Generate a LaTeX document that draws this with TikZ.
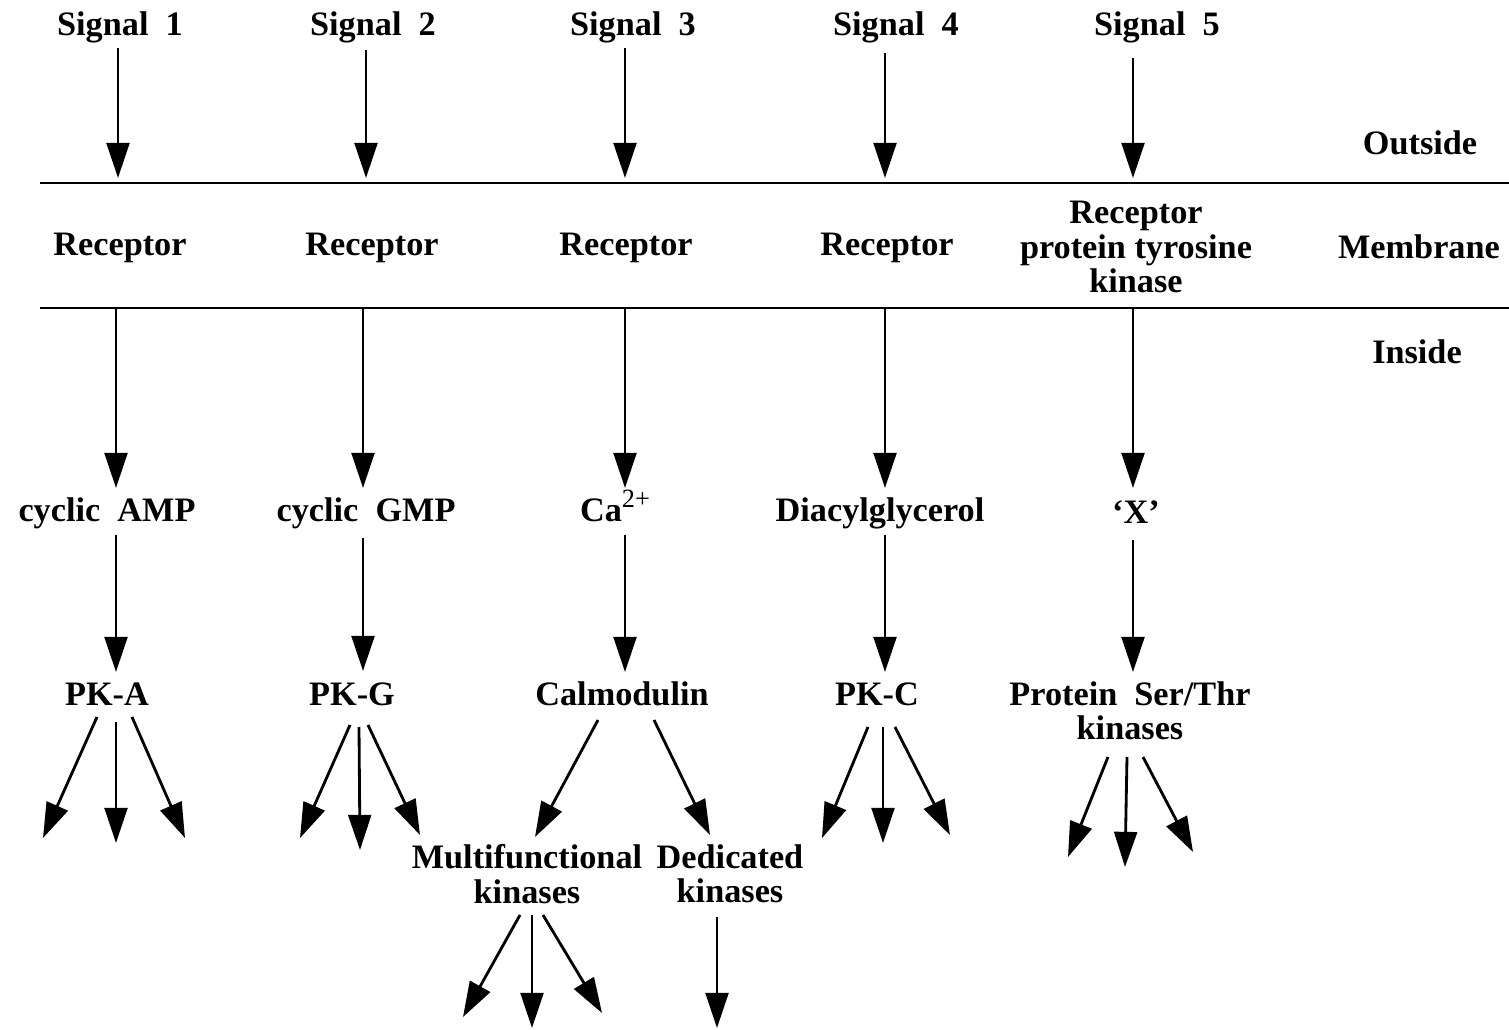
\documentclass[tikz,border=0pt]{standalone}
\usepackage{fontspec}
\setmainfont{Liberation Serif}
\usetikzlibrary{arrows.meta}
\begin{document}
\begin{tikzpicture}[x=0.02cm,y=-0.02cm,>={Triangle[length=20pt,width=13pt]}]
\tikzstyle lbl=[font=\fontsize{19.5}{19.5}\selectfont\bfseries, inner sep=2pt, align=center]
\tikzstyle sig=[line width=1.6pt,->]
\tikzstyle memb=[line width=1.7pt]
\useasboundingbox (0,0) rectangle (1509,1030);

\draw[memb] (40,183) -- (1509,183);
\draw[memb] (40,308) -- (1509,308);

\node[lbl] (s1) at (120,27) {Signal\ \ 1};
\node[lbl] (s2) at (373,27) {Signal\ \ 2};
\node[lbl] (s3) at (633,27) {Signal\ \ 3};
\node[lbl] (s4) at (896,27) {Signal\ \ 4};
\node[lbl] (s5) at (1157,27) {Signal\ \ 5};

\node[lbl] (r1) at (120,248) {Receptor};
\node[lbl] (r2) at (372,248) {Receptor};
\node[lbl] (r3) at (626,248) {Receptor};
\node[lbl] (r4) at (887,248) {Receptor};
\node[lbl] (r5) at (1136,247) {Receptor\\protein tyrosine\\kinase};

\node[lbl] (outside) at (1420,143) {Outside};
\node[lbl] (membrane) at (1419,247) {Membrane};
\node[lbl] (inside) at (1417,352) {Inside};

\node[lbl] (camp) at (107,513) {cyclic\ \ AMP};
\node[lbl] (cgmp) at (366,513) {cyclic\ \ GMP};
\node[lbl] (ca) at (615,506) {Ca\raisebox{0.42em}{\fontsize{15}{15}\selectfont\mdseries 2+}};
\node[lbl] (dag) at (880,513) {Diacylglycerol};
\node[lbl] (xx) at (1136,512) {‘X’};

\node[lbl] (pka) at (107,694) {PK-A};
\node[lbl] (pkg) at (352,694) {PK-G};
\node[lbl] (calm) at (622,694) {Calmodulin};
\node[lbl] (pkc) at (877,694) {PK-C};
\node[lbl] (pst) at (1130,711) {Protein\ \ Ser/Thr\\kinases};

\node[lbl] (multi) at (527,874) {Multifunctional\\kinases};
\node[lbl] (dedic) at (730,874) {Dedicated\\kinases};

\coordinate (t1) at (118,178);
\coordinate (t2) at (366,178);
\coordinate (t3) at (625,178);
\coordinate (t4) at (885,178);
\coordinate (t5) at (1133,178);
\coordinate (b1) at (116,308);
\coordinate (b2) at (363,308);
\coordinate (b3) at (625,308);
\coordinate (b4) at (885,308);
\coordinate (b5) at (1133,308);

\draw[sig] ([shift={(-2,21)}]s1.center) -- (t1);
\draw[sig] ([shift={(-7,23)}]s2.center) -- (t2);
\draw[sig] ([shift={(-8,21)}]s3.center) -- (t3);
\draw[sig] ([shift={(-11,26)}]s4.center) -- (t4);
\draw[sig] ([shift={(-24,31)}]s5.center) -- (t5);

\draw[sig] (b1) -- ([shift={(9,-25)}]camp.center);
\draw[sig] (b2) -- ([shift={(-3,-25)}]cgmp.center);
\draw[sig] (b3) -- ([shift={(10,-18)}]ca.center);
\draw[sig] (b4) -- ([shift={(5,-25)}]dag.center);
\draw[sig] (b5) -- ([shift={(-3,-24)}]xx.center);

\draw[sig] ([shift={(9,22)}]camp.center) -- ([shift={(9,-22)}]pka.center);
\draw[sig] ([shift={(-3,25)}]cgmp.center) -- ([shift={(11,-23)}]pkg.center);
\draw[sig] ([shift={(10,29)}]ca.center) -- ([shift={(3,-22)}]calm.center);
\draw[sig] ([shift={(5,22)}]dag.center) -- ([shift={(8,-22)}]pkc.center);
\draw[sig] ([shift={(-3,28)}]xx.center) -- ([shift={(3,-39)}]pst.center);

\coordinate (pa1) at (43,838);
\coordinate (pa2) at (116,843);
\coordinate (pa3) at (185,838);
\draw[sig] ([shift={(-10,23)}]pka.center) -- (pa1);
\draw[sig] ([shift={(9,28)}]pka.center) -- (pa2);
\draw[sig] ([shift={(25,23)}]pka.center) -- (pa3);

\coordinate (pg1) at (300,838);
\coordinate (pg2) at (360,850);
\coordinate (pg3) at (420,835);
\draw[sig] ([shift={(-2,31)}]pkg.center) -- (pg1);
\draw[sig] ([shift={(7,33)}]pkg.center) -- (pg2);
\draw[sig] ([shift={(16,31)}]pkg.center) -- (pg3);

\draw[sig] ([shift={(-24,26)}]calm.center) -- ([shift={(8,-37)}]multi.center);
\draw[sig] ([shift={(32,26)}]calm.center) -- ([shift={(-20,-39)}]dedic.center);

\coordinate (mf1) at (463,1017);
\coordinate (mf2) at (532,1028);
\coordinate (mf3) at (602,1013);
\coordinate (dk1) at (717,1028);
\draw[sig] ([shift={(-7,41)}]multi.center) -- (mf1);
\draw[sig] ([shift={(5,41)}]multi.center) -- (mf2);
\draw[sig] ([shift={(16,41)}]multi.center) -- (mf3);
\draw[sig] ([shift={(-13,43)}]dedic.center) -- (dk1);

\coordinate (pc1) at (822,838);
\coordinate (pc2) at (883,843);
\coordinate (pc3) at (950,835);
\draw[sig] ([shift={(-9,33)}]pkc.center) -- (pc1);
\draw[sig] ([shift={(6,33)}]pkc.center) -- (pc2);
\draw[sig] ([shift={(18,33)}]pkc.center) -- (pc3);

\coordinate (px1) at (1068,857);
\coordinate (px2) at (1125,867);
\coordinate (px3) at (1193,852);
\draw[sig] ([shift={(-22,46)}]pst.center) -- (px1);
\draw[sig] ([shift={(-3,46)}]pst.center) -- (px2);
\draw[sig] ([shift={(13,46)}]pst.center) -- (px3);
\end{tikzpicture}
\end{document}
